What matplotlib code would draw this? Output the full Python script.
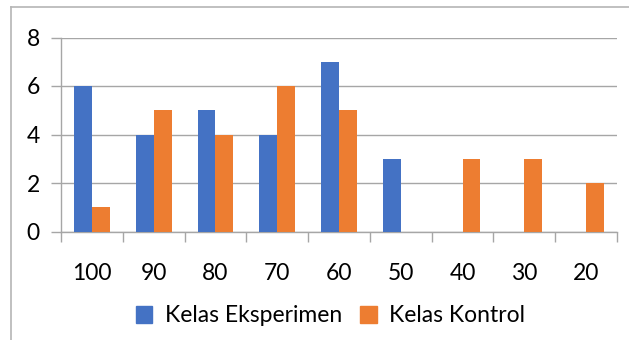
import matplotlib

matplotlib.use("Agg")
import matplotlib.pyplot as plt
import numpy as np
from matplotlib.patches import Patch

plt.rcParams["font.family"] = ["Lato", "DejaVu Sans"]

# --- data ---
scores = ["100", "90", "80", "70", "60", "50", "40", "30", "20"]
eksperimen = [6, 4, 5, 4, 7, 3, 0, 0, 0]
kontrol = [1, 5, 4, 6, 5, 0, 3, 3, 2]
y_ticks = [0, 2, 4, 6, 8]

BLUE = "#4472C4"
ORANGE = "#ED7D31"
GRID = "#a6a6a6"
FS = 16.5

fig = plt.figure(figsize=(6.29, 3.40), dpi=100)
ax = fig.add_axes([61 / 629, 1 - 231.5 / 340, 556 / 629, 194 / 340])

x = np.arange(len(scores))
w = 0.29
ax.bar(x - w / 2, eksperimen, w, color=BLUE, zorder=3)
ax.bar(x + w / 2, kontrol, w, color=ORANGE, zorder=3)

ax.set_xlim(-0.5, len(scores) - 0.5)
ax.set_ylim(0, 8)
ax.set_yticks(y_ticks)
ax.set_xticks(x)
ax.set_xticklabels(scores)
ax.set_xticks(np.arange(len(scores) + 1) - 0.5, minor=True)

for s in ("top", "right"):
    ax.spines[s].set_visible(False)
for s in ("left", "bottom"):
    ax.spines[s].set_color(GRID)
    ax.spines[s].set_linewidth(1.0)
ax.spines["left"].set_bounds(0, 8)

ax.yaxis.grid(True, color=GRID, linewidth=1.0, zorder=0)
ax.tick_params(axis="y", length=7.2, color=GRID, width=1.0, labelsize=FS, pad=8)
ax.tick_params(axis="x", which="major", length=0, labelsize=FS, pad=23)
ax.tick_params(axis="x", which="minor", length=7.2, color=GRID, width=1.0)

# outer chart frame
fig.add_artist(plt.Line2D([11 / 629, 11 / 629], [0, 1 - 7 / 340], transform=fig.transFigure,
                          color="#b5b5b5", linewidth=1.2))
fig.add_artist(plt.Line2D([11 / 629, 1], [1 - 7 / 340, 1 - 7 / 340], transform=fig.transFigure,
                          color="#b5b5b5", linewidth=1.2))

handles = [Patch(color=BLUE, label="Kelas Eksperimen"), Patch(color=ORANGE, label="Kelas Kontrol")]
fig.legend(handles=handles, loc="center", bbox_to_anchor=(330.5 / 629, 1 - 316 / 340), ncol=2,
           frameon=False, fontsize=FS, handlelength=0.72, handleheight=0.72,
           handletextpad=0.55, columnspacing=0.8, borderpad=0)

fig.savefig("out.png", dpi=100)
